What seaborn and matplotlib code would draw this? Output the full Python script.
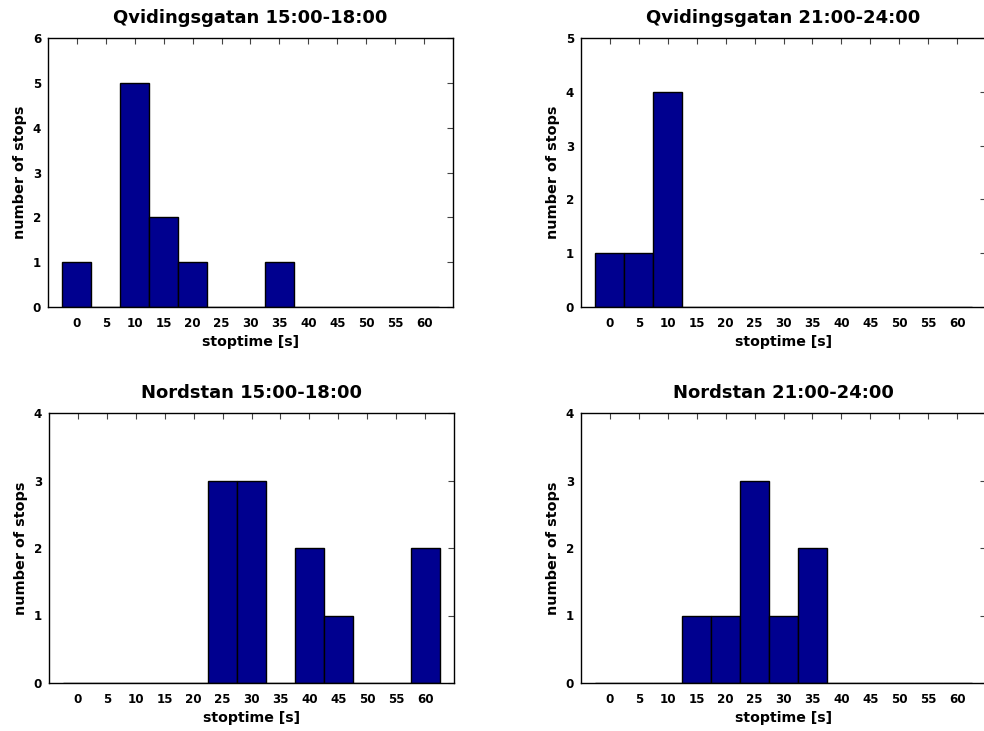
import matplotlib
matplotlib.use("Agg")
import matplotlib.pyplot as plt
import seaborn as sns
import pandas as pd

# Histogram bin centres (seconds) shared by all panels
bin_centres = [0, 5, 10, 15, 20, 25, 30, 35, 40, 45, 50, 55, 60]

# Number of stops per bin for each location / time window
qvidings_afternoon = [1, 0, 5, 2, 1, 0, 0, 1, 0, 0, 0, 0, 0]
qvidings_evening = [1, 1, 4, 0, 0, 0, 0, 0, 0, 0, 0, 0, 0]
nordstan_afternoon = [0, 0, 0, 0, 0, 3, 3, 0, 2, 1, 0, 0, 2]
nordstan_evening = [0, 0, 0, 1, 1, 3, 1, 2, 0, 0, 0, 0, 0]

titles = [
    "Qvidingsgatan 15:00-18:00",
    "Qvidingsgatan 21:00-24:00",
    "Nordstan 15:00-18:00",
    "Nordstan 21:00-24:00",
]
y_max = [6, 5, 4, 4]
series = [qvidings_afternoon, qvidings_evening, nordstan_afternoon, nordstan_evening]

sns.set_theme(style="white")
plt.rcParams["font.family"] = ["DejaVu Sans"]
plt.rcParams["font.weight"] = "bold"
plt.rcParams["axes.labelweight"] = "bold"
plt.rcParams["axes.titleweight"] = "bold"
plt.rcParams["text.color"] = "black"
plt.rcParams["axes.labelcolor"] = "black"
plt.rcParams["xtick.labelcolor"] = "black"
plt.rcParams["ytick.labelcolor"] = "black"

W, H = 984, 731
fig = plt.figure(figsize=(W / 100, H / 100), dpi=100)
fig.patch.set_facecolor("white")

# panel boxes in pixels: (left, top, right, bottom)
boxes = [
    (48, 38, 453, 307),
    (581, 38, 986, 307),
    (49, 413, 454, 683),
    (581, 413, 986, 683),
]

bar_color = "#00008F"

for box, counts, title, ymax in zip(boxes, series, titles, y_max):
    l, t, r, b = box
    ax = fig.add_axes([l / W, 1 - b / H, (r - l) / W, (b - t) / H])
    df = pd.DataFrame({"stoptime": bin_centres, "count": counts})
    sns.barplot(
        data=df, x="stoptime", y="count", native_scale=True, width=1.0,
        color=bar_color, saturation=1, edgecolor="black", linewidth=1.0,
        ax=ax,
    )
    ax.set_xlim(-5, 65)
    ax.set_ylim(0, ymax)
    ax.set_xticks(bin_centres)
    ax.set_xticklabels([str(v) for v in bin_centres])
    ax.set_yticks(range(0, ymax + 1))
    ax.tick_params(
        axis="both", direction="in", length=4, width=0.8, color="#444444",
        top=True, right=True, labelsize=8.6,
    )
    ax.tick_params(axis="x", pad=7)
    ax.tick_params(axis="y", pad=5)
    for lab in ax.get_xticklabels() + ax.get_yticklabels():
        lab.set_fontweight("bold")
        lab.set_color("black")
    for sp in ax.spines.values():
        sp.set_visible(True)
        sp.set_color("black")
        sp.set_linewidth(1.0)
    ax.set_title(title, fontsize=13, fontweight="bold", pad=10.5, color="black")
    ax.set_xlabel("stoptime [s]", fontsize=10.2, fontweight="bold", labelpad=3.5)
    ax.set_ylabel("number of stops", fontsize=10.4, fontweight="bold", labelpad=4)
    ax.set_facecolor("white")

fig.savefig("out.png", dpi=100, facecolor="white")
